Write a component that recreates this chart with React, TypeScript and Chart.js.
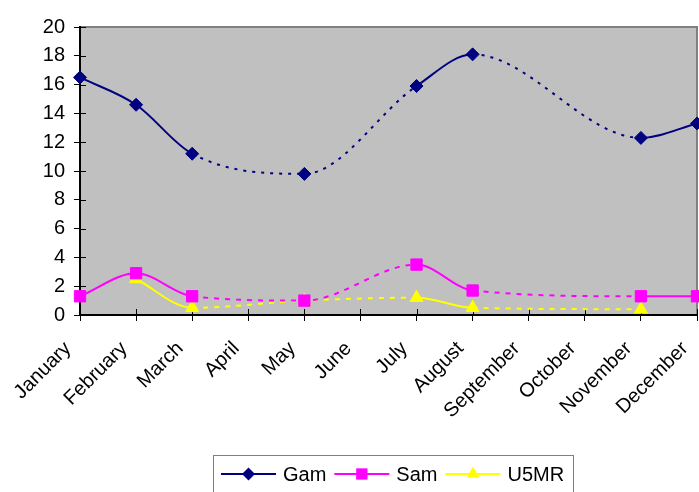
import React, { useEffect, useRef } from "react";
import { Chart, registerables } from "chart.js";

Chart.register(...registerables);

// Monthly series; null marks a month without a reading (bridged with a dashed line)
const months = [
  "January", "February", "March", "April", "May", "June",
  "July", "August", "September", "October", "November", "December",
];
const gam = [16.5, 14.6, 11.2, null, 9.8, null, 15.9, 18.1, null, null, 12.3, 13.3];
const sam = [1.3, 2.9, 1.3, null, 1.0, null, 3.5, 1.7, null, null, 1.3, 1.3];
const u5mr = [null, 2.5, 0.5, null, 1.0, null, 1.2, 0.5, null, null, 0.4, null];

const yMin = 0;
const yMax = 20;
const yStep = 2;

const FONT = "'Liberation Sans', Arial, Helvetica, sans-serif";
const W = 699;
const H = 492;

const gapDash = (dash: number[]) => (ctx: any) =>
  ctx.p0.skip || ctx.p1.skip ? dash : undefined;

function drawMarker(c: CanvasRenderingContext2D, style: string, x: number, y: number, r: number) {
  c.beginPath();
  if (style === "rectRot") {
    c.moveTo(x, y - r);
    c.lineTo(x + r, y);
    c.lineTo(x, y + r);
    c.lineTo(x - r, y);
  } else if (style === "rect") {
    const s = r * Math.SQRT1_2;
    c.rect(x - s, y - s, 2 * s, 2 * s);
  } else {
    const a = (2 * Math.PI) / 3;
    c.moveTo(x, y - r);
    c.lineTo(x + Math.sin(a) * r, y - Math.cos(a) * r);
    c.lineTo(x + Math.sin(2 * a) * r, y - Math.cos(2 * a) * r);
  }
  c.closePath();
  c.fill();
}

// Grey plot background with a grey frame; the black axes are drawn over it
const plotFrame = {
  id: "plotFrame",
  beforeDraw(chart: any) {
    const { ctx, chartArea: a } = chart;
    ctx.save();
    ctx.fillStyle = "#C0C0C0";
    ctx.fillRect(a.left, a.top, a.right - a.left, a.bottom - a.top);
    ctx.strokeStyle = "#808080";
    ctx.lineWidth = 2;
    ctx.strokeRect(a.left, a.top, a.right - a.left, a.bottom - a.top);
    ctx.restore();
  },
  // inner half of the crossing tick marks
  beforeDatasetsDraw(chart: any) {
    const { ctx, chartArea: a } = chart;
    const xs = chart.scales.x;
    const ys = chart.scales.y;
    ctx.save();
    ctx.strokeStyle = "#000";
    ctx.lineWidth = 1;
    ctx.beginPath();
    xs.ticks.forEach((_: any, i: number) => {
      const px = Math.round(xs.getPixelForTick(i)) + 0.5;
      ctx.moveTo(px, a.bottom);
      ctx.lineTo(px, a.bottom - 6);
    });
    ys.ticks.forEach((_: any, i: number) => {
      const py = Math.round(ys.getPixelForTick(i)) + 0.5;
      ctx.moveTo(a.left, py);
      ctx.lineTo(a.left + 6, py);
    });
    ctx.stroke();
    ctx.restore();
  },
};

// Boxed legend with a line sample and marker for each series
const boxLegend = {
  id: "boxLegend",
  afterDraw(chart: any) {
    const ctx: CanvasRenderingContext2D = chart.ctx;
    const boxLeft = 213;
    const boxTop = 455;
    const boxWidth = 360;
    const cy = 474;
    ctx.save();
    ctx.strokeStyle = "#808080";
    ctx.lineWidth = 1;
    ctx.strokeRect(boxLeft + 0.5, boxTop + 0.5, boxWidth, 60);
    ctx.font = `20px ${FONT}`;
    ctx.textBaseline = "middle";
    ctx.textAlign = "left";
    let x = 221;
    chart.data.datasets.forEach((ds: any) => {
      const lineLen = 55;
      ctx.strokeStyle = ds.borderColor;
      ctx.lineWidth = 2;
      ctx.beginPath();
      ctx.moveTo(x, cy);
      ctx.lineTo(x + lineLen, cy);
      ctx.stroke();
      ctx.fillStyle = ds.pointBackgroundColor;
      drawMarker(ctx, ds.pointStyle, x + lineLen / 2, cy, ds.pointRadius);
      ctx.fillStyle = "#000";
      const tx = x + lineLen + 7;
      ctx.fillText(ds.label, tx, cy + 1);
      x = tx + ctx.measureText(ds.label).width + 8;
    });
    ctx.restore();
  },
};

export default function App() {
  const ref = useRef<HTMLCanvasElement | null>(null);

  useEffect(() => {
    if (!ref.current) return;
    const font = { family: FONT, size: 20 };
    const grid = {
      display: true,
      drawOnChartArea: false,
      drawTicks: true,
      tickLength: 6,
      color: "#000",
      lineWidth: 1,
    };
    const border = { display: true, color: "#000", width: 2 };
    const lineCommon = {
      pointBorderWidth: 1,
      borderWidth: 2,
      cubicInterpolationMode: "monotone",
      spanGaps: true,
      clip: false,
    };

    const chart = new Chart(ref.current, {
      type: "line",
      data: {
        labels: months,
        datasets: [
          {
            ...lineCommon,
            label: "Gam",
            data: gam,
            borderColor: "#000080",
            backgroundColor: "#000080",
            pointBackgroundColor: "#000080",
            pointBorderColor: "#000080",
            pointStyle: "rectRot",
            pointRadius: 6.5,
            segment: { borderDash: gapDash([3, 6]) },
          },
          {
            ...lineCommon,
            label: "Sam",
            data: sam,
            borderColor: "#FF00FF",
            backgroundColor: "#FF00FF",
            pointBackgroundColor: "#FF00FF",
            pointBorderColor: "#FF00FF",
            pointStyle: "rect",
            pointRadius: 8,
            segment: { borderDash: gapDash([5, 6]) },
          },
          {
            ...lineCommon,
            label: "U5MR",
            data: u5mr,
            borderColor: "#FFFF00",
            backgroundColor: "#FFFF00",
            pointBackgroundColor: "#FFFF00",
            pointBorderColor: "#FFFF00",
            pointStyle: "triangle",
            pointRadius: 7.5,
            segment: { borderDash: gapDash([5, 6]) },
          },
        ],
      },
      options: {
        animation: false,
        responsive: false,
        devicePixelRatio: 1,
        layout: { autoPadding: false, padding: { top: 27, right: 2, left: 0, bottom: 0 } },
        plugins: {
          legend: { display: false },
          tooltip: { enabled: false },
        },
        scales: {
          x: {
            type: "category",
            offset: false,
            grid,
            border,
            ticks: {
              autoSkip: false,
              maxRotation: 45,
              minRotation: 45,
              color: "#000",
              font,
              padding: 16,
              labelOffset: -12,
            },
            afterFit: (s: any) => {
              s.height = H - 315;
              s.paddingLeft = 0;
              s.paddingRight = 0;
            },
          },
          y: {
            min: yMin,
            max: yMax,
            grid,
            border,
            ticks: { stepSize: yStep, color: "#000", font, padding: 9 },
            afterFit: (s: any) => {
              s.width = 80;
              s.paddingTop = 0;
              s.paddingBottom = 0;
            },
          },
        },
      } as any,
      plugins: [plotFrame, boxLegend],
    });
    return () => chart.destroy();
  }, []);

  return (
    <canvas
      ref={ref}
      width={W}
      height={H}
      style={{ position: "fixed", left: 0, top: 0, display: "block", background: "#fff" }}
    />
  );
}
